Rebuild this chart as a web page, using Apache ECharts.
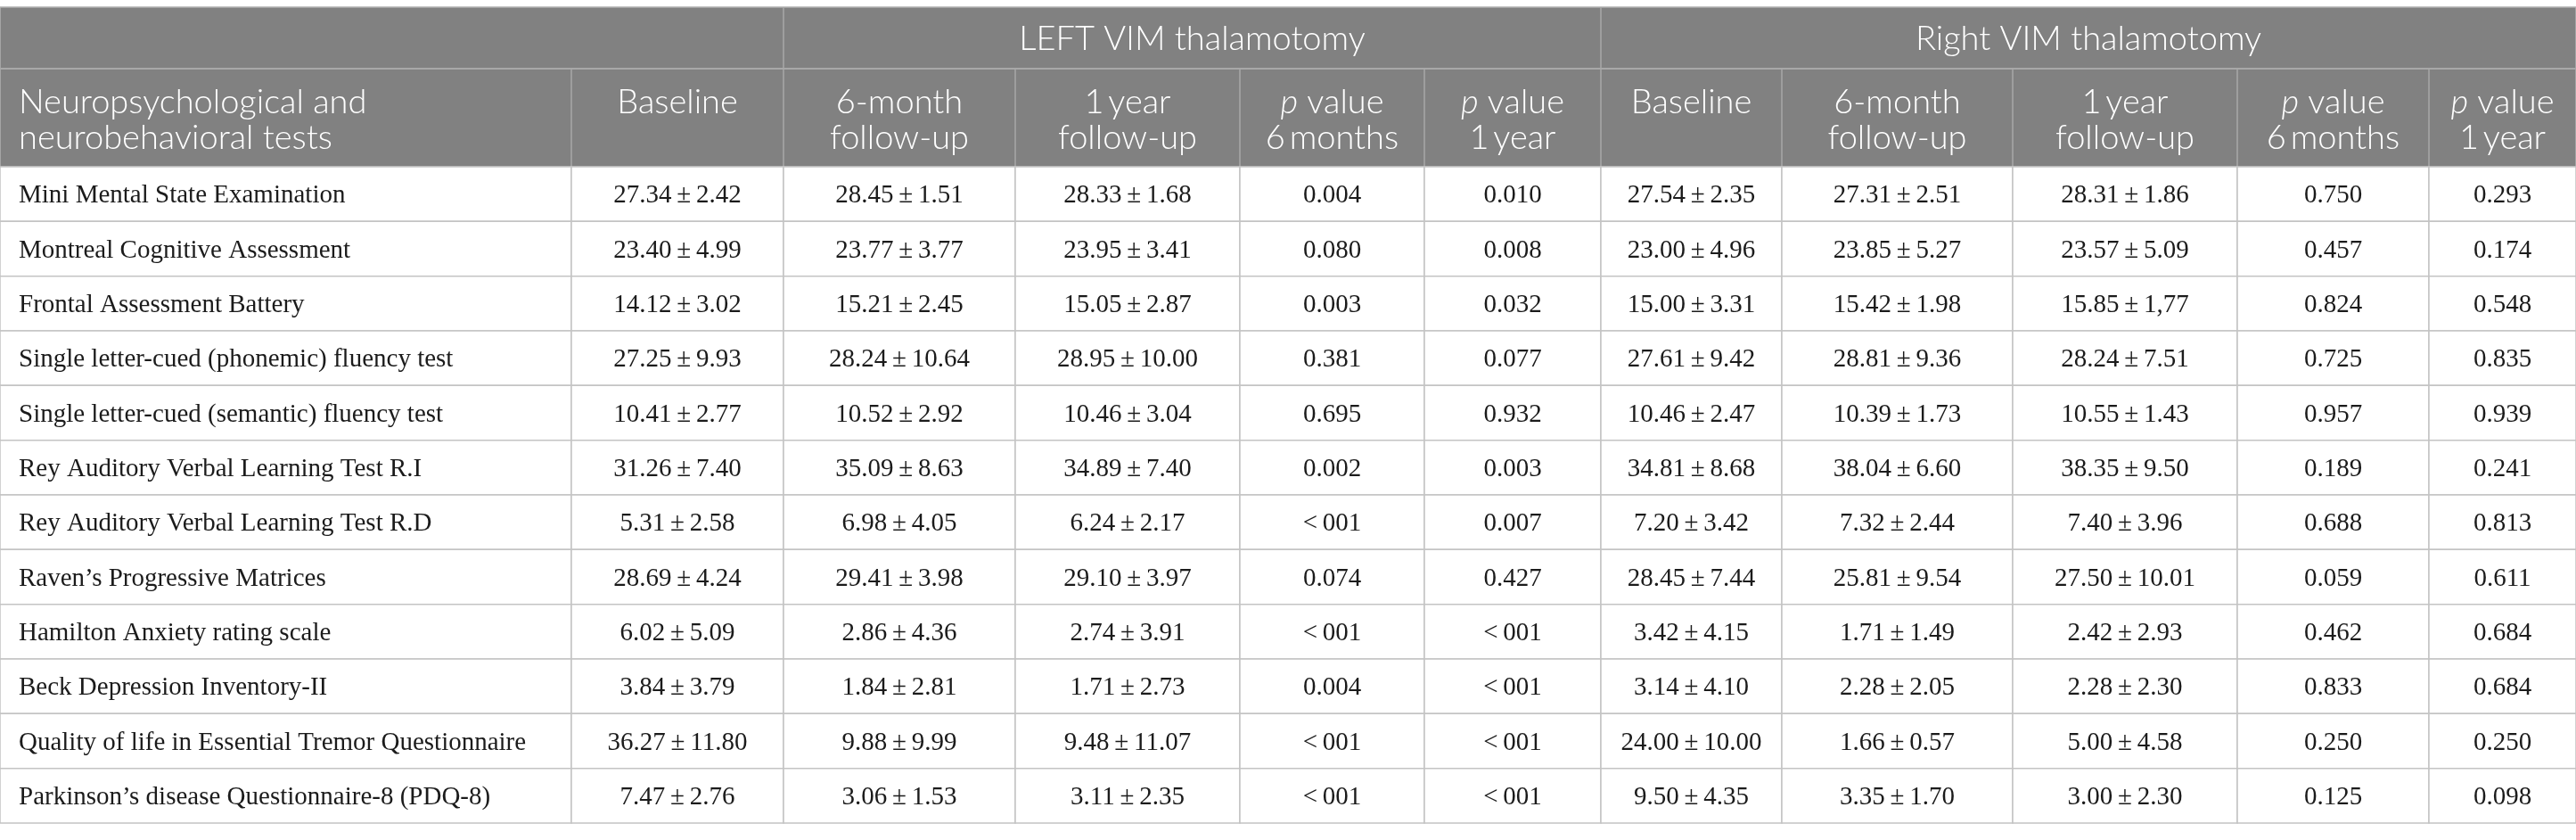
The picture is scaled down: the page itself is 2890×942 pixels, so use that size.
<!DOCTYPE html>
<html>
<head>
<meta charset="utf-8">
<script src="https://cdn.jsdelivr.net/npm/echarts/dist/echarts.min.js"></script>
<style>
html,body{margin:0;padding:0;background:#fff;}
#main{width:2890px;height:942px;}
</style>
</head>
<body>
<div id="main"></div>
<script>
// table content
var tests = ['Mini Mental State Examination', 'Montreal Cognitive Assessment', 'Frontal Assessment Battery',
    'Single letter-cued (phonemic) fluency test', 'Single letter-cued (semantic) fluency test',
    'Rey Auditory Verbal Learning Test R.I', 'Rey Auditory Verbal Learning Test R.D',
    'Raven\u2019s Progressive Matrices', 'Hamilton Anxiety rating scale', 'Beck Depression Inventory-II',
    'Quality of life in Essential Tremor Questionnaire', 'Parkinson\u2019s disease Questionnaire-8 (PDQ-8)'];

var leftBaseline = ['27.34 ± 2.42','23.40 ± 4.99','14.12 ± 3.02','27.25 ± 9.93','10.41 ± 2.77','31.26 ± 7.40',
    '5.31 ± 2.58','28.69 ± 4.24','6.02 ± 5.09','3.84 ± 3.79','36.27 ± 11.80','7.47 ± 2.76'];
var left6m = ['28.45 ± 1.51','23.77 ± 3.77','15.21 ± 2.45','28.24 ± 10.64','10.52 ± 2.92','35.09 ± 8.63',
    '6.98 ± 4.05','29.41 ± 3.98','2.86 ± 4.36','1.84 ± 2.81','9.88 ± 9.99','3.06 ± 1.53'];
var left1y = ['28.33 ± 1.68','23.95 ± 3.41','15.05 ± 2.87','28.95 ± 10.00','10.46 ± 3.04','34.89 ± 7.40',
    '6.24 ± 2.17','29.10 ± 3.97','2.74 ± 3.91','1.71 ± 2.73','9.48 ± 11.07','3.11 ± 2.35'];
var leftP6 = ['0.004','0.080','0.003','0.381','0.695','0.002','< 001','0.074','< 001','0.004','< 001','< 001'];
var leftP1 = ['0.010','0.008','0.032','0.077','0.932','0.003','0.007','0.427','< 001','< 001','< 001','< 001'];

var rightBaseline = ['27.54 ± 2.35','23.00 ± 4.96','15.00 ± 3.31','27.61 ± 9.42','10.46 ± 2.47','34.81 ± 8.68',
    '7.20 ± 3.42','28.45 ± 7.44','3.42 ± 4.15','3.14 ± 4.10','24.00 ± 10.00','9.50 ± 4.35'];
var right6m = ['27.31 ± 2.51','23.85 ± 5.27','15.42 ± 1.98','28.81 ± 9.36','10.39 ± 1.73','38.04 ± 6.60',
    '7.32 ± 2.44','25.81 ± 9.54','1.71 ± 1.49','2.28 ± 2.05','1.66 ± 0.57','3.35 ± 1.70'];
var right1y = ['28.31 ± 1.86','23.57 ± 5.09','15.85 ± 1,77','28.24 ± 7.51','10.55 ± 1.43','38.35 ± 9.50',
    '7.40 ± 3.96','27.50 ± 10.01','2.42 ± 2.93','2.28 ± 2.30','5.00 ± 4.58','3.00 ± 2.30'];
var rightP6 = ['0.750','0.457','0.824','0.725','0.957','0.189','0.688','0.059','0.462','0.833','0.250','0.125'];
var rightP1 = ['0.293','0.174','0.548','0.835','0.939','0.241','0.813','0.611','0.684','0.684','0.250','0.098'];

var groupLabels = ['LEFT VIM thalamotomy', 'Right VIM thalamotomy'];
var colHeaders = [
    ['Neuropsychological and', 'neurobehavioral tests'],
    ['Baseline'], ['6-month', 'follow-up'], ['1\u2009year', 'follow-up'], ['{i|p} value', '6\u2009months'], ['{i|p} value', '1\u2009year'],
    ['Baseline'], ['6-month', 'follow-up'], ['1\u2009year', 'follow-up'], ['{i|p} value', '6\u2009months'], ['{i|p} value', '1\u2009year']
];

var columns = [tests, leftBaseline, left6m, left1y, leftP6, leftP1, rightBaseline, right6m, right1y, rightP6, rightP1];

// layout
var W = 2890;
var colEdges = [0, 641, 879, 1139, 1391, 1598, 1796, 1999, 2258, 2510, 2725, 2890];
var headTop = 8, headMid = 77, headBottom = 187, tableBottom = 923;
var headBg = '#818181', headLine = '#a8a8a8', cellLine = '#c4c4c4';
var headFont = 'Lato, "Open Sans", sans-serif';
var cellFont = '"Liberation Serif", "DejaVu Serif", serif';
var headSize = 38;

function fmt(s){ return s.replace(' ± ', '\u2009±\u2009').replace('< ', '<\u2009'); }

var cells = [];
for (var c = 0; c < columns.length; c++) {
    for (var r = 0; r < tests.length; r++) cells.push([c, r]);
}

// header graphics
var g = [];
g.push({type:'rect', shape:{x:0, y:headTop, width:W, height:headBottom-headTop}, style:{fill:headBg, stroke:'#b0b0b0', lineWidth:1.5}, silent:true});
g.push({type:'line', shape:{x1:0, y1:headMid, x2:W, y2:headMid}, style:{stroke:headLine, lineWidth:2}, silent:true});
[colEdges[2], colEdges[6]].forEach(function(x){
    g.push({type:'line', shape:{x1:x, y1:headTop, x2:x, y2:headMid}, style:{stroke:headLine, lineWidth:1.5}, silent:true});
});
for (var e = 1; e < colEdges.length - 1; e++) {
    g.push({type:'line', shape:{x1:colEdges[e], y1:headMid, x2:colEdges[e], y2:headBottom}, style:{stroke:headLine, lineWidth:1.5}, silent:true});
}
var groupSpans = [[colEdges[2], colEdges[6]], [colEdges[6], colEdges[11]]];
groupLabels.forEach(function(t, i){
    g.push({type:'text', silent:true, style:{text:t, x:(groupSpans[i][0]+groupSpans[i][1])/2, y:44,
        align:'center', verticalAlign:'middle', fill:'#fff', font:'300 ' + headSize + 'px ' + headFont}});
});
colHeaders.forEach(function(lines, c){
    var left = c === 0;
    var x = left ? colEdges[0] + 21 : (colEdges[c] + colEdges[c+1]) / 2;
    lines.forEach(function(t, j){
        g.push({type:'text', silent:true, style:{text:t, x:x, y:115 + j*40,
            align:left ? 'left' : 'center', verticalAlign:'middle', fill:'#fff', font:'300 ' + headSize + 'px ' + headFont,
            rich:{i:{fontStyle:'italic', fontWeight:300, fontSize:headSize, fontFamily:headFont, fill:'#fff'}}}});
    });
});

var chart = echarts.init(document.getElementById('main'), null, {renderer:'canvas'});
chart.setOption({
    animation:false,
    backgroundColor:'#fff',
    grid:{left:0, right:0, top:headBottom, bottom:942-tableBottom},
    xAxis:{type:'value', min:0, max:W, show:false},
    yAxis:{type:'category', data:tests, inverse:true, show:false},
    graphic:g,
    series:[{
        type:'custom',
        silent:true,
        clip:false,
        data:cells,
        renderItem:function(params, api){
            var c = api.value(0), r = api.value(1);
            var p0 = api.coord([colEdges[c], r]);
            var p1 = api.coord([colEdges[c+1], r]);
            var h = api.size([0, 1])[1];
            var txt = c === 0 ? columns[c][r] : fmt(columns[c][r]);
            return {type:'group', children:[
                {type:'rect', shape:{x:p0[0], y:p0[1]-h/2, width:p1[0]-p0[0], height:h},
                    style:{fill:'#fff', stroke:cellLine, lineWidth:1.5}},
                {type:'text', style:{text:txt, x:c === 0 ? p0[0] + 21 : (p0[0]+p1[0])/2, y:p0[1] + 2,
                    align:c === 0 ? 'left' : 'center', verticalAlign:'middle', fill:'#1b1b1b',
                    font:'29px ' + cellFont}}
            ]};
        }
    }]
});
</script>
</body>
</html>
